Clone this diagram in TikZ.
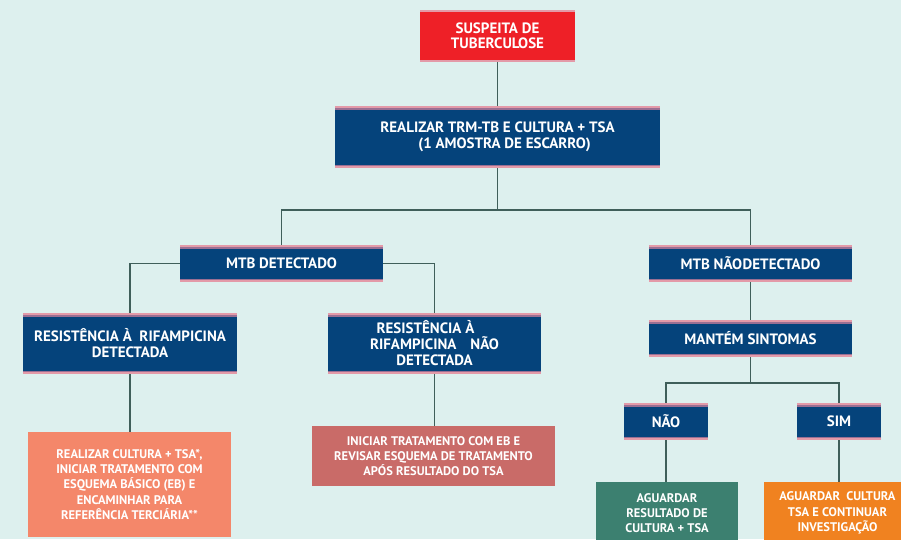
\documentclass[tikz,border=0pt]{standalone}
\usepackage{fontspec}
\setmainfont{PT Sans}
\definecolor{bg}{HTML}{DDF0EE}
\definecolor{navy}{HTML}{05437B}
\definecolor{redbox}{HTML}{EE2027}
\definecolor{salmon}{HTML}{F4876A}
\definecolor{rose}{HTML}{C96B68}
\definecolor{teal}{HTML}{3C8070}
\definecolor{orangebox}{HTML}{F08220}
\definecolor{stripeA}{HTML}{E39AA8}
\definecolor{stripeB}{HTML}{9A6F93}
\definecolor{conn}{HTML}{3F5F5A}
\begin{document}
\begin{tikzpicture}[x=1pt,y=-1pt,
  box/.style={inner sep=0pt, align=center, text=white,
    font=\fontsize{15}{16}\selectfont\bfseries},
  small/.style={font=\fontsize{12.5}{15.3}\selectfont\bfseries},
  navybox/.style={box, fill=navy, path picture={
    \fill[stripeA] (path picture bounding box.north west) rectangle ([yshift=-2pt]path picture bounding box.north east);
    \fill[stripeB] ([yshift=-2pt]path picture bounding box.north west) rectangle ([yshift=-3.5pt]path picture bounding box.north east);
    \fill[stripeA] (path picture bounding box.south west) rectangle ([yshift=2pt]path picture bounding box.south east);
    \fill[stripeB] ([yshift=2pt]path picture bounding box.south west) rectangle ([yshift=3.5pt]path picture bounding box.south east);
  }},
  redstyle/.style={box, fill=redbox, path picture={
    \fill[stripeA] (path picture bounding box.north west) rectangle ([yshift=-2pt]path picture bounding box.north east);
    \fill[stripeA] (path picture bounding box.south west) rectangle ([yshift=2pt]path picture bounding box.south east);
  }},
  link/.style={draw=conn, line width=1.5pt}
]
\clip (0,0) rectangle (901,539);
\fill[bg] (0,0) rectangle (901,539);

\node[redstyle, minimum width=155, minimum height=52, font=\fontsize{15}{15}\selectfont\bfseries] (susp) at (497.5,36) {SUSPEITA DE\\TUBERCULOSE};
\node[navybox, minimum width=325, minimum height=62] (realizar) at (497.5,137) {REALIZAR TRM-TB E CULTURA + TSA\\\hspace*{14pt}(1 AMOSTRA DE ESCARRO)};
\node[navybox, minimum width=203, minimum height=37] (mtbd) at (281.5,263.5) {MTB DETECTADO};
\node[navybox, minimum width=203, minimum height=37] (mtbn) at (750.5,263.5) {MTB NÃO\kern0.5pt DETECTADO};
\node[navybox, minimum width=214, minimum height=61] (resL) at (130,343.5) {RESISTÊNCIA À\ \ RIFAMPICINA\\DETECTADA};
\node[navybox, minimum width=213, minimum height=61] (resR) at (434.5,343.5) {RESISTÊNCIA À\hspace*{18pt}\\RIFAMPICINA\hspace{14pt}NÃO\\DETECTADA};
\node[navybox, minimum width=203, minimum height=37] (mant) at (750.5,338.5) {MANTÉM SINTOMAS};
\node[navybox, minimum width=84, minimum height=37] (nao) at (666,421.5) {NÃO};
\node[navybox, minimum width=84, minimum height=37] (sim) at (839,421.5) {SIM};
\node[box, small, fill=salmon, minimum width=203, minimum height=105] (cultL) at (129.5,484.5) {REALIZAR CULTURA + TSA*,\\INICIAR TRATAMENTO COM\\ESQUEMA BÁSICO (EB) E\\ENCAMINHAR PARA\\REFERÊNCIA TERCIÁRIA**};
\node[box, small, fill=rose, minimum width=243, minimum height=60] (inic) at (433.5,456) {INICIAR TRATAMENTO COM EB E\\REVISAR ESQUEMA DE TRATAMENTO\\APÓS RESULTADO DO TSA};
\node[box, small, fill=teal, minimum width=142, minimum height=62] (aguG) at (667,513) {AGUARDAR\\RESULTADO DE\\CULTURA + TSA};
\node[box, small, fill=orangebox, minimum width=147, minimum height=62] (aguO) at (837.5,513) {AGUARDAR\ \ CULTURA\\TSA E CONTINUAR\\INVESTIGAÇÃO};

\coordinate (j1) at (497.5,210);
\coordinate (j2) at (750.5,383);
\draw[link] (susp) -- (realizar);
\draw[link] (realizar) -- (j1);
\draw[link] (mtbd.north) |- (j1) -| (mtbn.north);
\draw[link] (mtbd.west) -| (resL.north);
\draw[link] (mtbd.east) -| (resR.north);
\draw[link] (resL.south) -- (resL.south |- cultL.north);
\draw[link] (resR.south) -- (resR.south |- inic.north);
\draw[link] (mtbn) -- (mant);
\draw[link] (mant) -- (j2);
\draw[link] (nao.north) |- (j2) -| (sim.north);
\draw[link] (nao.south) -- (nao.south |- aguG.north);
\draw[link] (sim.south) -- (sim.south |- aguO.north);
\end{tikzpicture}
\end{document}
